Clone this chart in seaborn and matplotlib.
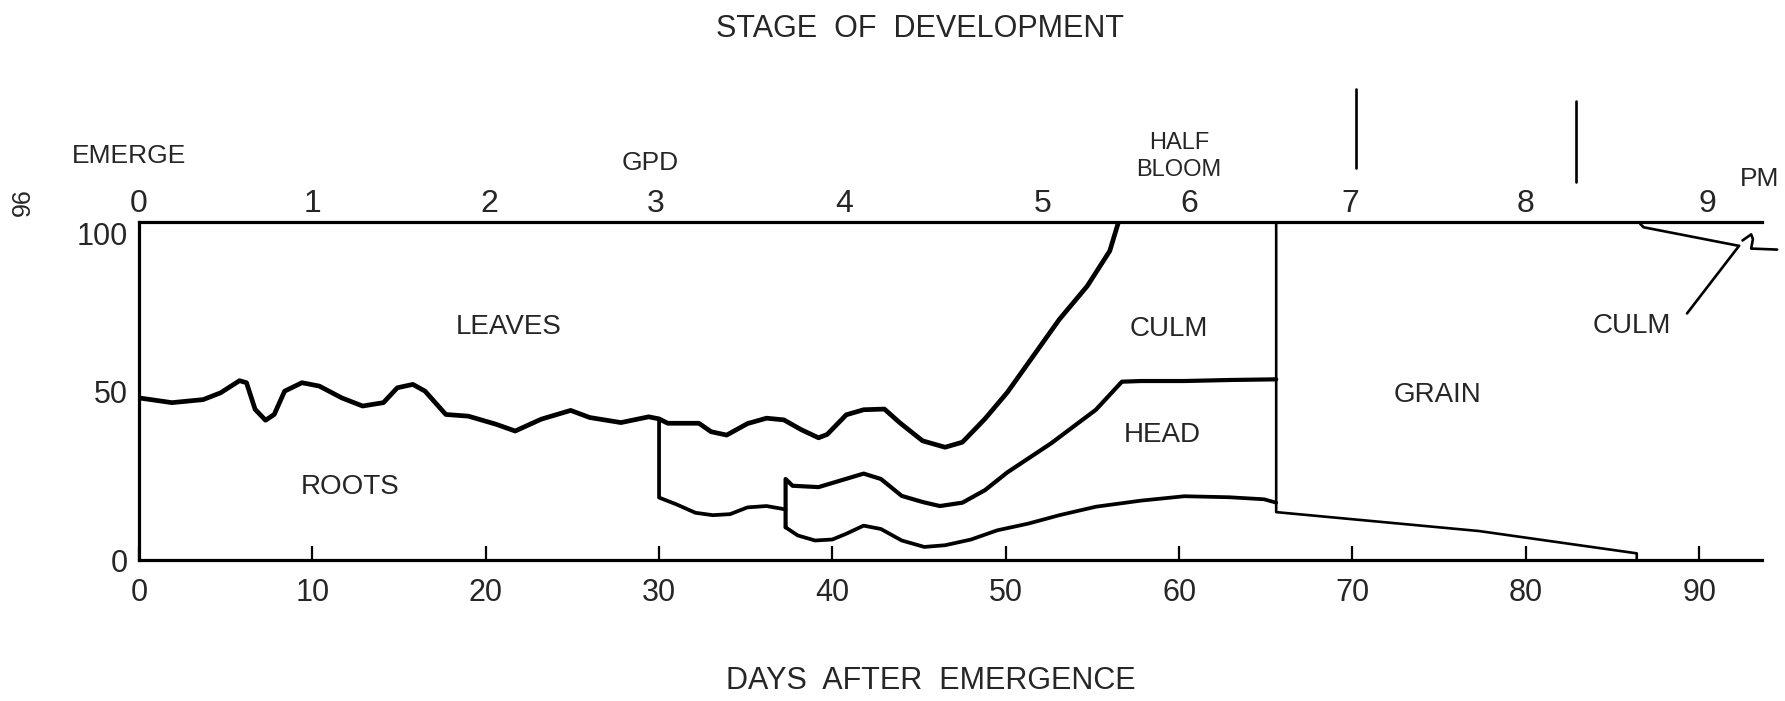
import numpy as np
import pandas as pd
import matplotlib
matplotlib.use("Agg")
import matplotlib.pyplot as plt
import seaborn as sns

# Top axis: stage of development, and the day each stage number sits at
stage_labels = ["0", "1", "2", "3", "4", "5", "6", "7", "8", "9"]
stage_days = [0, 10.0, 20.2, 29.8, 40.7, 52.1, 60.6, 69.9, 80.0, 90.5]

day_ticks = [0, 10, 20, 30, 40, 50, 60, 70, 80, 90]
pct_ticks = [0, 50, 100]
pct_labels = ["0", "50", "100"]

# Boundary lines between the plant parts (percent of total)
leaves_day = [0, 1.9, 3.7, 4.7, 5.8, 6.2, 6.7, 7.3, 7.8, 8.4, 9.4, 10.4, 11.7,
              12.9, 14.1, 14.9, 15.8, 16.5, 17.7, 19.0, 20.6, 21.7, 23.2, 24.9,
              26.0, 27.8, 29.4, 30.0, 30.5, 32.3, 33.0, 33.9, 35.1, 36.2, 37.2,
              38.2, 39.2, 39.7, 40.8, 41.8, 43.0, 43.9, 45.2, 46.5, 47.5, 48.8,
              50.1, 51.6, 53.1, 54.7, 56.0, 56.5]
leaves_pct = [48.0, 46.6, 47.5, 49.5, 53.1, 52.5, 44.6, 41.4, 43.1, 50.0, 52.5,
              51.5, 48.0, 45.6, 46.6, 51.0, 52.0, 50.0, 43.1, 42.6, 40.2, 38.2,
              41.7, 44.3, 42.2, 40.7, 42.4, 41.8, 40.5, 40.5, 38.0, 37.0, 40.4,
              42.0, 41.5, 38.6, 36.2, 37.2, 43.0, 44.5, 44.7, 40.6, 35.3, 33.4,
              34.9, 41.8, 49.7, 60.5, 71.3, 81.1, 91.5, 100.0]

culm_day = [30.0, 30.0, 31.0, 32.1, 33.1, 34.1, 35.1, 36.2, 37.3]
culm_pct = [41.8, 18.5, 16.5, 14.0, 13.3, 13.6, 15.6, 16.0, 15.0]

head_top_day = [37.3, 37.3, 37.7, 39.2, 40.5, 41.8, 42.8, 44.0, 45.2, 46.2, 47.5,
                48.8, 50.1, 52.6, 55.2, 56.7, 57.8, 60.3, 62.9, 65.6]
head_top_pct = [9.7, 24.0, 22.0, 21.6, 23.6, 25.6, 24.0, 19.0, 17.2, 16.0, 17.0,
                20.7, 26.0, 34.5, 44.5, 52.8, 53.0, 53.0, 53.3, 53.5]

head_bot_day = [37.3, 38.0, 39.0, 40.0, 40.8, 41.8, 42.8, 44.0, 45.3, 46.5, 48.0,
                49.5, 51.3, 53.1, 55.2, 57.8, 60.3, 62.9, 64.9, 65.6]
head_bot_pct = [9.7, 7.3, 5.8, 6.1, 7.8, 10.2, 9.2, 5.8, 3.9, 4.4, 6.1,
                8.8, 10.8, 13.3, 15.8, 17.6, 18.9, 18.6, 18.0, 17.0]

grain_day = [65.6, 65.6, 77.3, 86.4, 86.4]
grain_pct = [100.0, 14.2, 8.6, 2.0, 0.0]

late_culm_day = [86.6, 86.8, 92.3]
late_culm_pct = [99.5, 98.5, 93.0]
pointer_day = [92.3, 89.3]
pointer_pct = [93.0, 73.0]
hook_day = [92.5, 93.0, 93.1, 93.0, 94.5]
hook_pct = [94.6, 96.4, 95.0, 92.2, 91.9]

# marks above the stage axis
mark_day = [70.2, 70.2, 82.9, 82.9]
mark_pct = [139.3, 116.0, 136.0, 111.8]

sns.set_style("white")
plt.rcParams["font.family"] = ["Liberation Sans Narrow", "DejaVu Sans Condensed",
                               "Liberation Sans", "DejaVu Sans"]

fig = plt.figure(figsize=(17.85, 7.01), dpi=100)
ax = fig.add_axes([139 / 1785, 0.201, 0.9226, 0.482])

lines = [
    (leaves_day, leaves_pct, 3.4),
    (culm_day, culm_pct, 2.7),
    (head_top_day, head_top_pct, 3.0),
    (head_bot_day, head_bot_pct, 2.7),
    (grain_day, grain_pct, 1.9),
    (late_culm_day, late_culm_pct, 1.9),
    (pointer_day, pointer_pct, 1.9),
    (hook_day, hook_pct, 1.9),
]
for d, p, w in lines:
    df = pd.DataFrame({"day": d, "pct": p})
    sns.lineplot(data=df, x="day", y="pct", estimator=None, sort=False,
                 color="black", lw=w, ax=ax, solid_joinstyle="round",
                 solid_capstyle="round")

for k in range(0, len(mark_day), 2):
    ax.plot(mark_day[k:k + 2], mark_pct[k:k + 2], color="black", lw=1.9,
            clip_on=False)

ax.set_xlim(0, 95)
ax.set_ylim(0, 100)
ax.set_xlabel("")
ax.set_ylabel("")

for s in ["left", "bottom", "top"]:
    ax.spines[s].set_linewidth(2.3)
    ax.spines[s].set_color("black")
ax.spines["right"].set_visible(False)
ax.spines["bottom"].set_bounds(0, 93.6)
ax.spines["top"].set_bounds(0, 93.6)

ax.set_xticks(day_ticks, labels=[str(t) for t in day_ticks])
ax.tick_params(axis="x", direction="in", length=10, width=1.6, pad=13,
               labelsize=22, bottom=True, color="black")
ax.set_yticks(pct_ticks, labels=pct_labels)
ax.tick_params(axis="y", length=0, pad=8, labelsize=22, left=True)
ax.get_yticklabels()[2].set_verticalalignment("top")

sec = ax.secondary_xaxis("top")
sec.set_xticks(stage_days, labels=stage_labels)
sec.tick_params(length=0, pad=2, labelsize=23)
sec.spines["top"].set_visible(False)

# region names
txt = dict(ha="center", va="center", fontsize=20)
ax.text(21.3, 69, "LEAVES", **txt)
ax.text(12.2, 21.7, "ROOTS", **txt)
ax.text(59.4, 68.5, "CULM", **txt)
ax.text(59.0, 37, "HEAD", **txt)
ax.text(74.9, 49, "GRAIN", **txt)
ax.text(86.1, 69.3, "CULM", **txt)

# stage names above the stage axis
top = dict(ha="center", va="center", fontsize=19, clip_on=False)
ax.text(-0.6, 119.5, "EMERGE", **top)
ax.text(29.5, 117.5, "GPD", **top)
ax.text(60.0, 123.4, "HALF", ha="center", va="center", fontsize=17, clip_on=False)
ax.text(60.0, 115.4, "BLOOM", ha="center", va="center", fontsize=17, clip_on=False)
ax.text(93.5, 112.7, "PM", **top)

fig.text(920 / 1785, 1 - 29 / 701, "STAGE  OF  DEVELOPMENT", ha="center",
         va="center", fontsize=22)
fig.text(931 / 1785, 1 - 681 / 701, "DAYS  AFTER  EMERGENCE", ha="center",
         va="center", fontsize=22)
fig.text(23 / 1785, 1 - 202 / 701, "96", rotation=90, ha="center", va="center",
         fontsize=18)

fig.savefig("out.png", dpi=100)
